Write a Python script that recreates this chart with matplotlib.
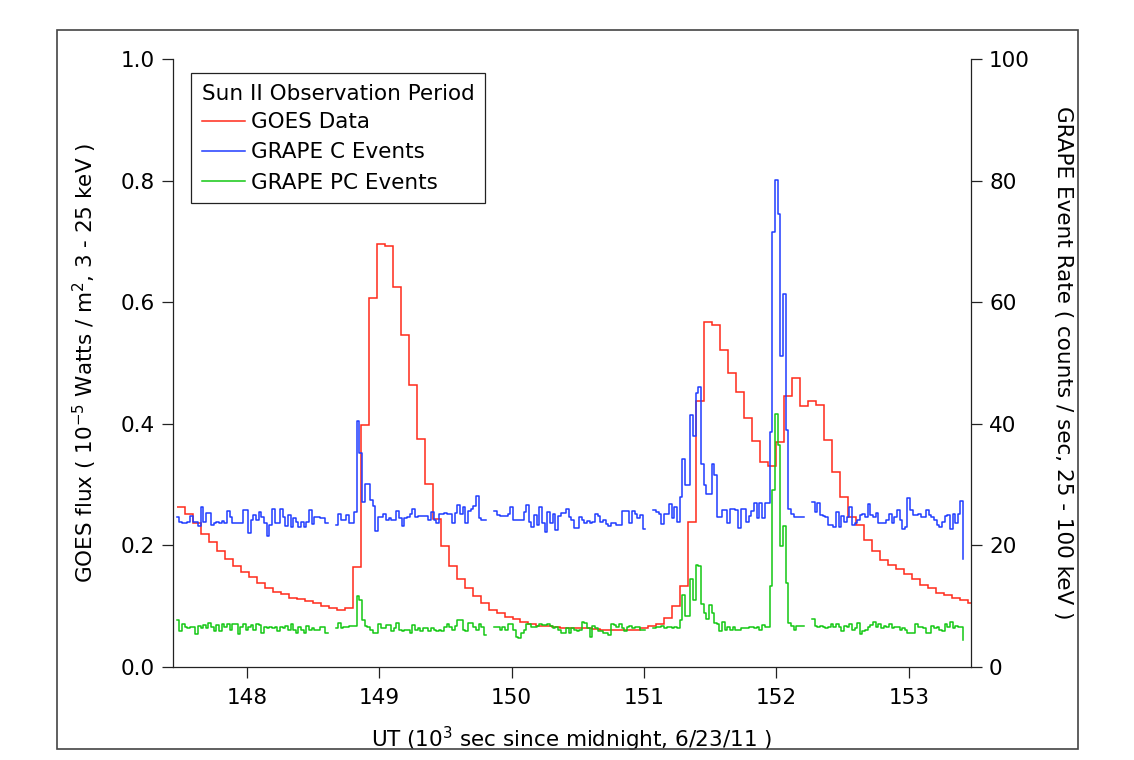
import numpy as np
import matplotlib
matplotlib.use('Agg')
import matplotlib.pyplot as plt
import matplotlib.patches as patches

nan = np.nan

# GOES flux, 1 min bins (units of 1e-5 W/m^2)
goes_t0 = 147.474
goes_dt = 0.0603
goes_flux = [
    0.263, 0.252, 0.237, 0.219, 0.2045, 0.190, 0.177, 0.166, 0.156, 0.147,
    0.138, 0.130, 0.123, 0.119, 0.113, 0.111, 0.108, 0.104, 0.100, 0.096,
    0.094, 0.096, 0.164, 0.398, 0.607, 0.695, 0.692, 0.625, 0.545, 0.463,
    0.375, 0.300, 0.243, 0.198, 0.166, 0.145, 0.130, 0.116, 0.104, 0.094,
    0.088, 0.082, 0.078, 0.074, 0.070, 0.067, 0.067, 0.065, 0.063, 0.063,
    0.063, 0.063, 0.062, 0.060, 0.060, 0.060, 0.060, 0.061, 0.063, 0.067,
    0.070, 0.080, 0.100, 0.133, 0.238, 0.437, 0.567, 0.563, 0.521, 0.484,
    0.452, 0.409, 0.372, 0.337, 0.330, 0.369, 0.446, 0.475, 0.429, 0.437,
    0.430, 0.373, 0.320, 0.280, 0.247, 0.233, 0.208, 0.191, 0.175, 0.168,
    0.160, 0.152, 0.144, 0.135, 0.129, 0.122, 0.118, 0.113, 0.110, 0.105,
]

# GRAPE rates, 20 s bins (counts/sec), nan = no data
grape_t0 = 147.47
grape_dt = 0.02
grape_c = [
    24.6, 23.8, 23.7, 23.6, 23.8, 24.8, 23.8, 23.8, 23.1, 26.3,
    23.8, 25.3, 25.3, 23.3, 23.7, 23.8, 23.6, 24.0, 23.6, 25.6,
    24.7, 23.7, 23.6, 23.6, 23.6, 25.8, 25.8, 22.0, 24.2, 25.0,
    24.2, 25.5, 24.7, 23.6, 21.5, 23.3, 26.0, 23.6, 23.6, 26.0,
    24.7, 23.1, 25.0, 23.0, 24.4, 23.8, 23.0, 23.8, 23.0, 23.8,
    25.7, 23.5, 24.7, 24.7, 24.4, 24.4, 23.7, nan, nan, nan,
    23.3, 25.1, 24.1, 24.1, 24.9, 23.7, 23.7, 25.5, 40.4, 35.1,
    27.1, 30.0, 30.0, 27.4, 26.4, 22.4, 24.6, 24.7, 25.1, 24.1,
    24.4, 24.1, 24.1, 25.6, 24.4, 23.1, 24.4, 24.7, 25.1, 26.0,
    24.7, 24.8, 24.8, 24.8, 24.8, 24.1, 25.5, 24.2, 23.6, 25.2,
    25.2, 25.3, 25.1, 25.2, 23.7, 25.3, 26.6, 25.1, 26.2, 23.7,
    25.6, 25.9, 26.4, 28.1, 24.4, 24.2, 24.1, nan, nan, nan,
    25.6, 24.9, 24.8, 24.8, 24.8, 25.2, 26.2, 24.2, 24.1, 24.2,
    24.2, 25.5, 26.6, 23.8, 23.0, 24.9, 23.3, 26.3, 23.6, 22.2,
    25.5, 23.6, 25.2, 22.5, 24.8, 25.3, 25.3, 26.0, 24.7, 24.2,
    22.9, 22.9, 24.7, 24.2, 23.7, 24.0, 23.7, 23.8, 25.1, 24.8,
    23.8, 24.2, 23.5, 23.1, 23.6, 23.7, 23.3, 23.3, 25.6, 25.6,
    25.6, 23.7, 25.6, 25.1, 24.4, 24.9, 22.7, nan, nan, nan,
    25.8, 25.5, 25.2, 23.5, 25.1, 25.1, 26.7, 24.4, 26.2, 23.8,
    28.0, 34.1, 29.9, 29.9, 41.4, 37.9, 45.0, 46.0, 33.4, 29.9,
    28.4, 28.4, 33.4, 31.5, 24.6, 24.6, 25.8, 25.8, 23.7, 26.0,
    26.0, 25.8, 22.9, 26.0, 26.0, 23.8, 24.8, 25.6, 26.9, 24.4,
    26.9, 24.4, 27.0, 27.0, 38.6, 71.5, 80.1, 74.5, 51.2, 61.4,
    39.0, 26.0, 25.2, 24.6, 24.6, 24.6, 24.6, nan, nan, nan,
    27.1, 25.5, 27.0, 25.0, 24.8, 24.7, 23.3, 23.3, 23.0, 25.5,
    23.0, 24.8, 23.8, 24.7, 26.2, 23.3, 23.6, 24.1, 24.9, 25.2,
    24.7, 26.7, 24.9, 24.6, 25.3, 23.6, 23.7, 23.7, 24.2, 25.2,
    23.7, 24.6, 25.8, 24.2, 22.7, 23.0, 27.7, 25.8, 24.9, 24.9,
    25.1, 24.7, 24.6, 25.8, 24.9, 24.6, 24.1, 23.3, 23.0, 23.8,
    24.8, 24.9, 22.7, 25.1, 23.6, 25.1, 27.3, 17.8,
]
grape_pc = [
    7.7, 5.8, 7.1, 6.6, 6.3, 6.5, 6.6, 5.4, 6.7, 6.3,
    6.9, 6.3, 7.2, 6.6, 5.9, 6.9, 5.8, 7.0, 6.6, 7.0,
    6.1, 7.0, 7.1, 5.4, 6.6, 7.0, 6.1, 6.6, 6.9, 6.1,
    7.0, 6.9, 5.6, 6.6, 6.3, 6.6, 6.3, 6.6, 5.8, 6.6,
    6.3, 6.7, 6.1, 7.0, 6.0, 5.5, 6.6, 6.0, 5.5, 6.7,
    6.0, 6.3, 6.0, 6.0, 6.5, 6.5, 5.6, nan, nan, nan,
    6.3, 7.2, 6.3, 6.6, 6.6, 6.7, 6.7, 6.7, 11.6, 11.0,
    7.6, 6.7, 6.6, 6.1, 5.6, 5.6, 7.0, 6.3, 6.3, 6.8,
    6.8, 5.9, 6.3, 7.2, 6.1, 5.8, 6.1, 6.1, 5.6, 6.8,
    6.1, 6.3, 5.8, 6.3, 6.3, 5.8, 6.3, 6.1, 5.8, 6.0,
    5.8, 6.6, 7.1, 6.6, 6.0, 6.7, 7.6, 7.7, 6.1, 5.8,
    7.2, 7.2, 6.6, 6.1, 7.1, 6.6, 5.2, nan, nan, nan,
    6.6, 6.6, 6.1, 6.6, 6.1, 7.1, 7.1, 6.1, 4.9, 4.7,
    5.6, 6.1, 7.1, 7.0, 6.5, 6.6, 6.7, 7.0, 6.9, 6.9,
    7.0, 6.7, 6.3, 6.6, 6.0, 5.6, 5.5, 6.3, 5.5, 6.3,
    6.1, 5.9, 6.1, 7.4, 7.2, 6.3, 4.9, 6.7, 6.3, 5.9,
    5.8, 5.6, 5.5, 5.2, 7.0, 6.9, 6.6, 7.0, 6.3, 5.8,
    6.6, 6.7, 6.3, 6.6, 6.6, 6.1, 6.0, nan, nan, nan,
    6.3, 6.6, 6.6, 6.7, 6.3, 6.6, 6.6, 6.3, 6.6, 6.3,
    7.7, 11.8, 8.3, 8.3, 14.4, 11.0, 16.7, 16.5, 10.3, 8.8,
    7.8, 10.1, 8.9, 7.2, 7.0, 5.8, 7.4, 6.0, 6.6, 6.1,
    6.5, 6.1, 6.0, 6.3, 6.3, 6.3, 6.5, 6.5, 6.3, 6.6,
    6.1, 6.8, 6.5, 6.6, 13.3, 29.0, 41.5, 36.4, 19.8, 23.1,
    13.8, 7.2, 6.7, 6.1, 6.7, 6.7, 6.7, nan, nan, nan,
    7.8, 6.7, 6.5, 6.7, 6.6, 6.3, 6.6, 7.0, 6.5, 7.1,
    6.5, 5.8, 6.7, 6.6, 7.0, 6.1, 6.3, 7.2, 5.4, 5.9,
    6.1, 6.6, 6.9, 7.4, 6.6, 7.0, 6.3, 6.7, 6.6, 7.0,
    6.3, 6.5, 6.6, 6.0, 6.3, 6.0, 5.6, 5.6, 5.5, 7.0,
    6.6, 6.5, 6.3, 5.5, 5.6, 6.7, 6.3, 6.6, 6.0, 5.8,
    7.1, 6.6, 7.4, 6.3, 6.7, 6.6, 6.6, 4.4,
]

x_ticks = [148, 149, 150, 151, 152, 153]
left_ticks = [0.0, 0.2, 0.4, 0.6, 0.8, 1.0]
right_ticks = [0, 20, 40, 60, 80, 100]

goes_edges = goes_t0 + goes_dt * np.arange(len(goes_flux) + 1)
grape_t = grape_t0 + grape_dt * np.arange(len(grape_c))

plt.rcParams['font.family'] = ['DejaVu Sans']
plt.rcParams['font.size'] = 15.5
plt.rcParams['mathtext.fontset'] = 'dejavusans'

RED = '#ff2a1a'
BLUE = '#1f3cff'
GREEN = '#14c814'

fig = plt.figure(figsize=(11.34, 7.6), dpi=100)
ax = fig.add_axes([0.1523, 0.1228, 0.704, 0.7996])
ax2 = ax.twinx()

ax.stairs(goes_flux, goes_edges, baseline=None, color=RED, lw=1.1, label='GOES Data')
ax2.step(grape_t, grape_c, where='post', color=BLUE, lw=1.1, label='GRAPE C Events')
ax2.step(grape_t, grape_pc, where='post', color=GREEN, lw=1.1, label='GRAPE PC Events')

ax.set_xlim(147.44, 153.47)
ax.set_ylim(0, 1.0)
ax2.set_ylim(0, 100)
ax.set_xticks(x_ticks)
ax.set_yticks(left_ticks)
ax.set_yticklabels(['%.1f' % v for v in left_ticks])
ax2.set_yticks(right_ticks)

for a in (ax, ax2):
    a.spines['top'].set_visible(False)
    for s in a.spines.values():
        s.set_linewidth(0.9)
        s.set_color('#222222')
    a.tick_params(direction='out', length=8, width=0.9, color='#222222', pad=5)
ax.spines['right'].set_visible(False)
ax2.spines['left'].set_visible(False)
ax2.spines['bottom'].set_visible(False)
ax.tick_params(axis='x', pad=7)

ax.set_xlabel('UT (10$^{3}$ sec since midnight, 6/23/11 )')
ax.set_ylabel('GOES flux ( 10$^{-5}$ Watts / m$^{2}$, 3 - 25 keV )')
ax2.set_ylabel('GRAPE Event Rate ( counts / sec, 25 - 100 keV )', rotation=270)
ax.xaxis.label.set_va('center')
ax.yaxis.label.set_va('center')
ax2.yaxis.label.set_va('center')
ax.xaxis.set_label_coords(0.5, -0.12)
ax.yaxis.set_label_coords(-0.11, 0.5)
ax2.yaxis.set_label_coords(1.115, 0.5)

h1, l1 = ax.get_legend_handles_labels()
h2, l2 = ax2.get_legend_handles_labels()
leg = ax2.legend(h1 + h2, l1 + l2, title='Sun II Observation Period',
                 loc='upper left', bbox_to_anchor=(0.023, 0.977),
                 frameon=True, fancybox=False, framealpha=1, edgecolor='#222222',
                 handlelength=2.0, handletextpad=0.3, labelspacing=0.48,
                 borderpad=0.5, borderaxespad=0, alignment='left',
                 fontsize=15.5, title_fontsize=15.5)
leg.get_frame().set_linewidth(0.9)
leg._legend_box.sep = 6

fig.patches.append(patches.Rectangle((57 / 1134, 11 / 760), 1021 / 1134, 719 / 760,
                                     transform=fig.transFigure, fill=False,
                                     edgecolor='#444444', lw=1.2))

fig.savefig('out.png', dpi=100)
